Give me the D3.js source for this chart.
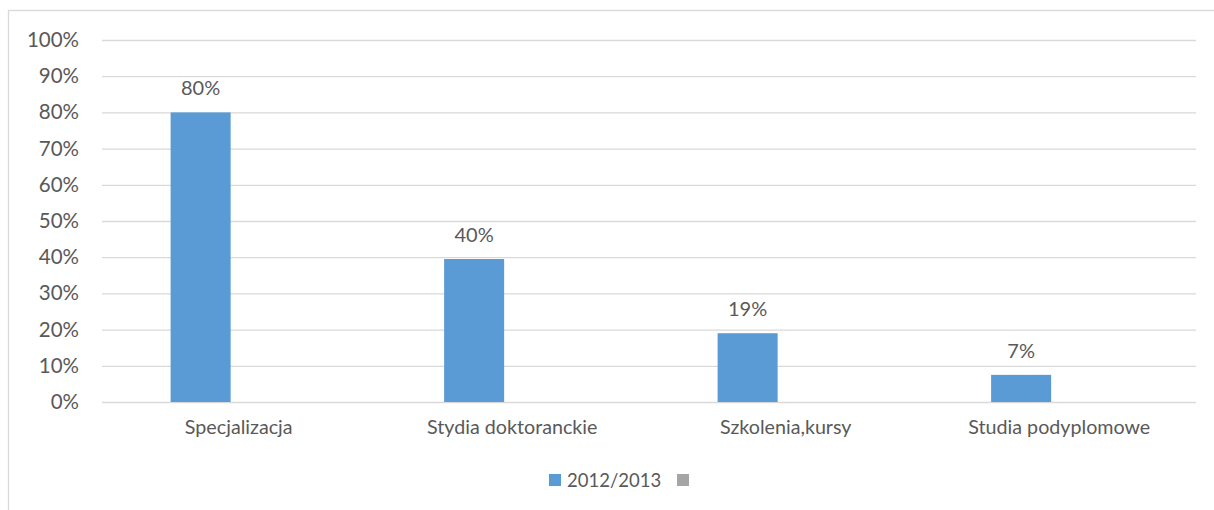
<!DOCTYPE html>
<html>
<head>
<meta charset="utf-8">
<script src="https://cdn.jsdelivr.net/npm/d3@7"></script>
<style>
  html, body { margin: 0; padding: 0; background: #fff; }
  svg { display: block; }
  text { font-family: "Lato", "Open Sans", sans-serif; fill: #595959; }
</style>
</head>
<body>
<svg id="chart" width="1214" height="510"></svg>
<script>
const categories = ["Specjalizacja", "Stydia doktoranckie", "Szkolenia,kursy", "Studia podyplomowe"];
const seriesNames = ["2012/2013", ""];
const series2012 = [0.80, 0.395, 0.19, 0.075];
const seriesEmpty = [null, null, null, null];
const valueLabels = ["80%", "40%", "19%", "7%"];
const yTicks = [0, 0.1, 0.2, 0.3, 0.4, 0.5, 0.6, 0.7, 0.8, 0.9, 1.0];
const colors = ["#5B9BD5", "#A5A5A5"];

const svg = d3.select("#chart");
const plot = { left: 102, right: 1196, top: 40, bottom: 402 };

// outer chart border (extends past right/bottom edge)
svg.append("rect")
  .attr("x", 8.5).attr("y", 10.5)
  .attr("width", 1230).attr("height", 530)
  .attr("fill", "none").attr("stroke", "#d9d9d9").attr("stroke-width", 1.3);

const x = d3.scaleBand().domain(categories).range([plot.left, plot.right]).paddingInner(0).paddingOuter(0);
const xInner = d3.scaleBand().domain(seriesNames).range([0, x.bandwidth()])
  .paddingInner(0.2126).paddingOuter(0.9);
const y = d3.scaleLinear().domain([0, 1]).range([plot.bottom, plot.top]);

// gridlines + y labels
const yAxis = d3.axisLeft(y).tickValues(yTicks).tickSize(-(plot.right - plot.left))
  .tickFormat(d3.format(".0%")).tickPadding(23);
const gy = svg.append("g").attr("transform", `translate(${plot.left},0)`).call(yAxis);
gy.select(".domain").remove();
gy.selectAll(".tick line").attr("stroke", "#d9d9d9").attr("stroke-width", 1.3);
gy.selectAll(".tick text").attr("font-size", 20.5).attr("fill", "#595959")
  .style("font-family", "Lato, sans-serif");

// x axis labels
const xAxis = d3.axisBottom(x).tickSize(0).tickPadding(18);
const gx = svg.append("g").attr("transform", `translate(0,${plot.bottom})`).call(xAxis);
gx.select(".domain").remove();
gx.selectAll(".tick text").attr("font-size", 19.7).attr("fill", "#595959")
  .style("font-family", "Lato, sans-serif");

// bars
const data = categories.map((c, i) => ({ cat: c, v: series2012[i], label: valueLabels[i] }));
svg.append("g").selectAll("rect").data(data).join("rect")
  .attr("x", d => x(d.cat) + xInner(seriesNames[0]))
  .attr("width", xInner.bandwidth())
  .attr("y", d => y(d.v))
  .attr("height", d => y(0) - y(d.v))
  .attr("fill", colors[0]);

// data labels
svg.append("g").selectAll("text").data(data).join("text")
  .attr("x", d => x(d.cat) + xInner(seriesNames[0]) + xInner.bandwidth() / 2)
  .attr("y", d => y(d.v) - 17)
  .attr("text-anchor", "middle")
  .attr("font-size", 20)
  .text(d => d.label);

// legend
const lg = svg.append("g").attr("transform", "translate(549,474)");
lg.append("rect").attr("x", 0).attr("y", 0).attr("width", 12).attr("height", 12).attr("fill", colors[0]);
lg.append("text").attr("x", 18).attr("y", 12.5).attr("font-size", 18.5).text(seriesNames[0]);
lg.append("rect").attr("x", 128).attr("y", 0).attr("width", 12).attr("height", 12).attr("fill", colors[1]);
</script>
</body>
</html>
